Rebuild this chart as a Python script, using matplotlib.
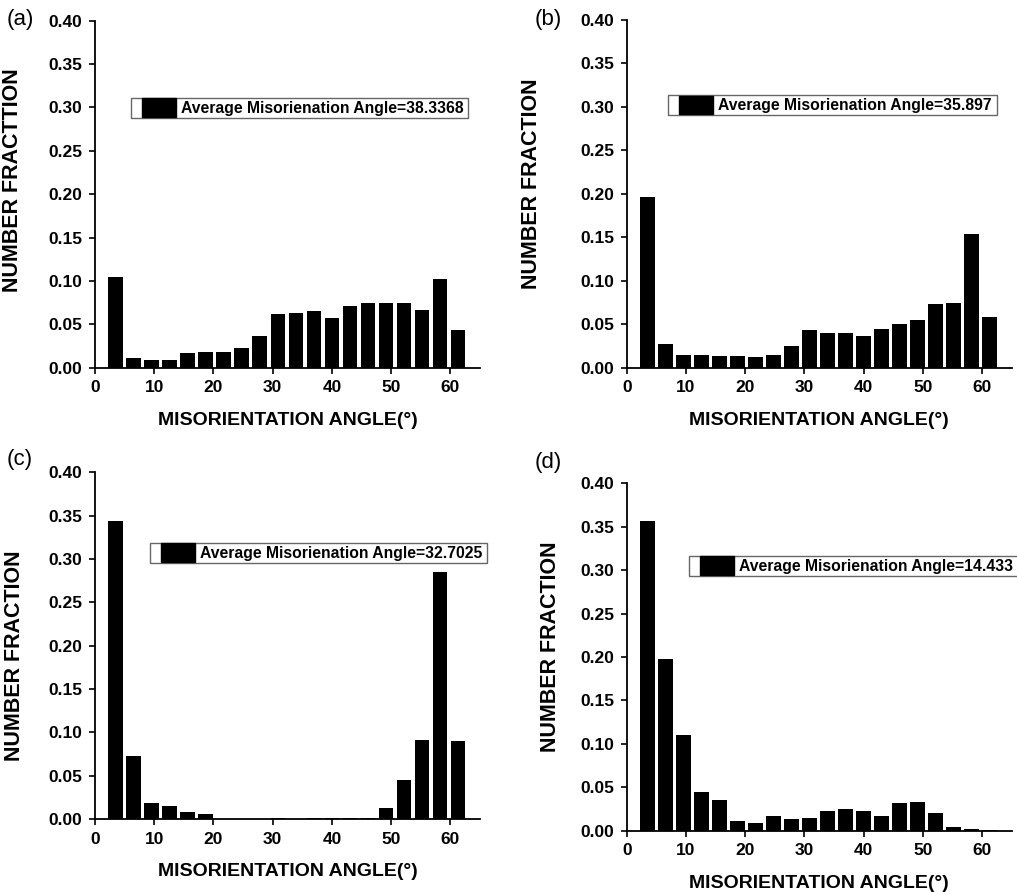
import numpy as np
import matplotlib
matplotlib.use("Agg")
import matplotlib.pyplot as plt
from matplotlib.patches import Patch, Rectangle
from matplotlib.legend_handler import HandlerPatch

plt.rcParams['font.family'] = ['Liberation Sans', 'DejaVu Sans']

# ---- data ----
n_bins = 20
frac_a = [0.104, 0.011, 0.009, 0.009, 0.017, 0.018, 0.018, 0.023, 0.037, 0.062,
          0.063, 0.065, 0.057, 0.071, 0.075, 0.075, 0.075, 0.067, 0.102, 0.043]
frac_b = [0.196, 0.027, 0.015, 0.015, 0.014, 0.014, 0.012, 0.015, 0.025, 0.043,
          0.040, 0.040, 0.036, 0.045, 0.050, 0.055, 0.073, 0.074, 0.154, 0.058]
frac_c = [0.344, 0.073, 0.019, 0.015, 0.0085, 0.0055, 0.0003, 0.0, 0.0, 0.0012,
          0.0, 0.0008, 0.0008, 0.0008, 0.0008, 0.013, 0.045, 0.091, 0.285, 0.090]
frac_d = [0.357, 0.198, 0.110, 0.045, 0.035, 0.011, 0.0085, 0.017, 0.014, 0.015,
          0.023, 0.025, 0.023, 0.017, 0.032, 0.033, 0.020, 0.0042, 0.0015, 0.0012]
avg_angles = ["38.3368", "35.897", "32.7025", "14.433"]
panel_letters = ["(a)", "(b)", "(c)", "(d)"]
ylabels = ["NUMBER FRACTTION", "NUMBER FRACTION", "NUMBER FRACTION", "NUMBER FRACTION"]
xlabel = "MISORIENTATION ANGLE(\u00b0)"
yticks = [0.00, 0.05, 0.10, 0.15, 0.20, 0.25, 0.30, 0.35, 0.40]
xticks = [0, 10, 20, 30, 40, 50, 60]

# ---- layout ----
W, H = 1017, 892
bin_start, bin_step, bar_w = 2.0, 3.04, 2.5
centers = bin_start + bin_step * (np.arange(n_bins) + 0.5)

# axes rectangles in pixels: left, top, width, height
rects = [(95, 20.7, 385, 347.0), (626.7, 20.0, 385, 347.7),
         (95, 472.3, 385, 346.7), (626.7, 483.3, 385, 347.4)]
legend_anchor = [(0.093, 0.778), (0.108, 0.784), (0.143, 0.797), (0.163, 0.791)]
ylabel_pos = [(-0.186, 0.54), (-0.221, 0.53), (-0.182, 0.47), (-0.171, 0.53)]
letter_pos = [(7, 9), (535, 9), (7, 449), (535, 452)]

LEG_FS = 11.3
PATCH_W_PX = 34.0


def make_patch(legend, orig_handle, xdescent, ydescent, width, height, fontsize):
    pw = PATCH_W_PX * 72.0 / 100.0
    return Rectangle((-xdescent + width - pw, -ydescent - 1.0), pw, height + 2.0,
                     facecolor='black', edgecolor='none')


fig = plt.figure(figsize=(W / 100, H / 100), dpi=100)
data = [frac_a, frac_b, frac_c, frac_d]
for k in range(4):
    l, t, w, h = rects[k]
    ax = fig.add_axes([l / W, 1 - (t + h) / H, w / W, h / H])
    ax.bar(centers, data[k], width=bar_w, color='black', edgecolor='none')
    ax.set_xlim(0, 65)
    ax.set_ylim(0, 0.40)
    ax.set_xticks(xticks)
    ax.set_yticks(yticks)
    ax.set_yticklabels([f"{v:.2f}" for v in yticks])
    for s in ['top', 'right']:
        ax.spines[s].set_visible(False)
    for s in ['left', 'bottom']:
        ax.spines[s].set_linewidth(1.3)
    ax.tick_params(direction='out', length=4, width=1.2, labelsize=12.5)
    ax.tick_params(axis='y', pad=5)
    ax.tick_params(axis='x', pad=5)
    for lab in ax.get_xticklabels() + ax.get_yticklabels():
        lab.set_fontweight('bold')
    ax.set_xlabel(xlabel, fontsize=14, fontweight='bold')
    ax.xaxis.set_label_coords(0.5, -0.128)
    ax.set_ylabel(ylabels[k], fontsize=15.5, fontweight='bold')
    ax.yaxis.set_label_coords(*ylabel_pos[k])
    leg = ax.legend(handles=[Patch(facecolor='black', edgecolor='black')],
                    labels=[f"Average Misorienation Angle={avg_angles[k]}\u2009"],
                    handler_map={Patch: HandlerPatch(patch_func=make_patch)},
                    loc='upper left', bbox_to_anchor=legend_anchor[k],
                    borderaxespad=0, fancybox=False, framealpha=1,
                    edgecolor='#666666', borderpad=0.12, handlelength=2.75,
                    handleheight=1.2, handletextpad=0.3,
                    prop={'weight': 'bold', 'size': LEG_FS})
    leg.get_frame().set_linewidth(1.0)
    fig.text(letter_pos[k][0] / W, 1 - letter_pos[k][1] / H, panel_letters[k],
             fontsize=16, ha='left', va='top')

fig.savefig("out.png", dpi=100)
